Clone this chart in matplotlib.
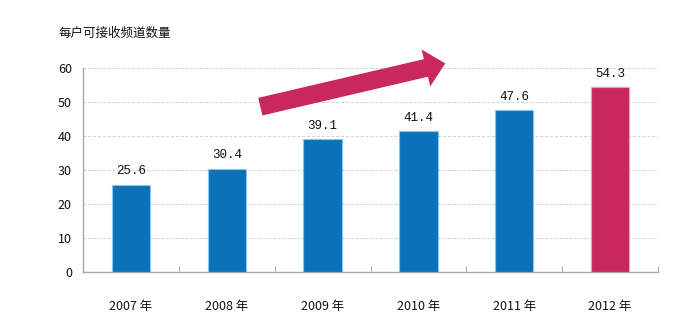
import matplotlib
matplotlib.use("Agg")
import matplotlib.pyplot as plt
import numpy as np

plt.rcParams['font.family'] = ['Noto Sans CJK SC', 'DejaVu Sans']

years = ['2007 年', '2008 年', '2009 年', '2010 年', '2011 年', '2012 年']
channels = [25.6, 30.4, 39.1, 41.4, 47.6, 54.3]
yticks = [0, 10, 20, 30, 40, 50, 60]

blue = '#0B72BA'
red = '#C8285E'
colors = [blue] * 5 + [red]
edges = ['#8EC3E8'] * 5 + ['#E6A0B8']

fig = plt.figure(figsize=(7, 3.31), dpi=100)
ax = fig.add_axes([0.1186, 0.178, 0.8214, 0.617])

x = np.arange(len(years))
ax.bar(x, channels, width=0.4, color=colors, edgecolor=edges, linewidth=0.8, zorder=3)

# value labels
for xi, v in zip(x, channels):
    ax.text(xi, v + 2.2, '%.1f' % v, ha='center', va='bottom',
            fontsize=9, family='Liberation Mono', color='#111111')

ax.set_xlim(-0.5, len(years) - 0.5)
ax.set_ylim(0, 60)

# gridlines
ax.set_yticks(yticks)
ax.set_yticklabels([str(t) for t in yticks], fontsize=9, color='#111111')
ax.yaxis.grid(True, linestyle=(0, (3, 2)), color='#d0d0d0', linewidth=0.7)
ax.tick_params(axis='y', length=0, pad=8)

# category boundaries as ticks, labels at centers
ax.set_xticks(np.arange(-0.5, len(years), 1.0))
ax.set_xticklabels([])
ax.tick_params(axis='x', which='major', direction='in', length=4, color='#aaaaaa')
ax.set_xticks(x, minor=True)
ax.set_xticklabels(years, minor=True, fontsize=9, color='#111111')
ax.tick_params(axis='x', which='minor', length=0, pad=20)

for s in ['top', 'right']:
    ax.spines[s].set_visible(False)
for s in ['left', 'bottom']:
    ax.spines[s].set_color('#aaaaaa')
    ax.spines[s].set_linewidth(1.0)

# trend arrow
ax.annotate('', xy=(3.28, 61.3), xytext=(1.35, 48.6),
            xycoords='data', textcoords='data', annotation_clip=False,
            arrowprops=dict(arrowstyle='simple,head_length=1.1,head_width=2.1,tail_width=1.0',
                            mutation_scale=13, color=red, shrinkA=0, shrinkB=0, lw=0))

fig.text(0.083, 0.9, '每户可接收频道数量', fontsize=9, color='#111111', va='center')

fig.savefig('out.png', dpi=100, facecolor='white')
